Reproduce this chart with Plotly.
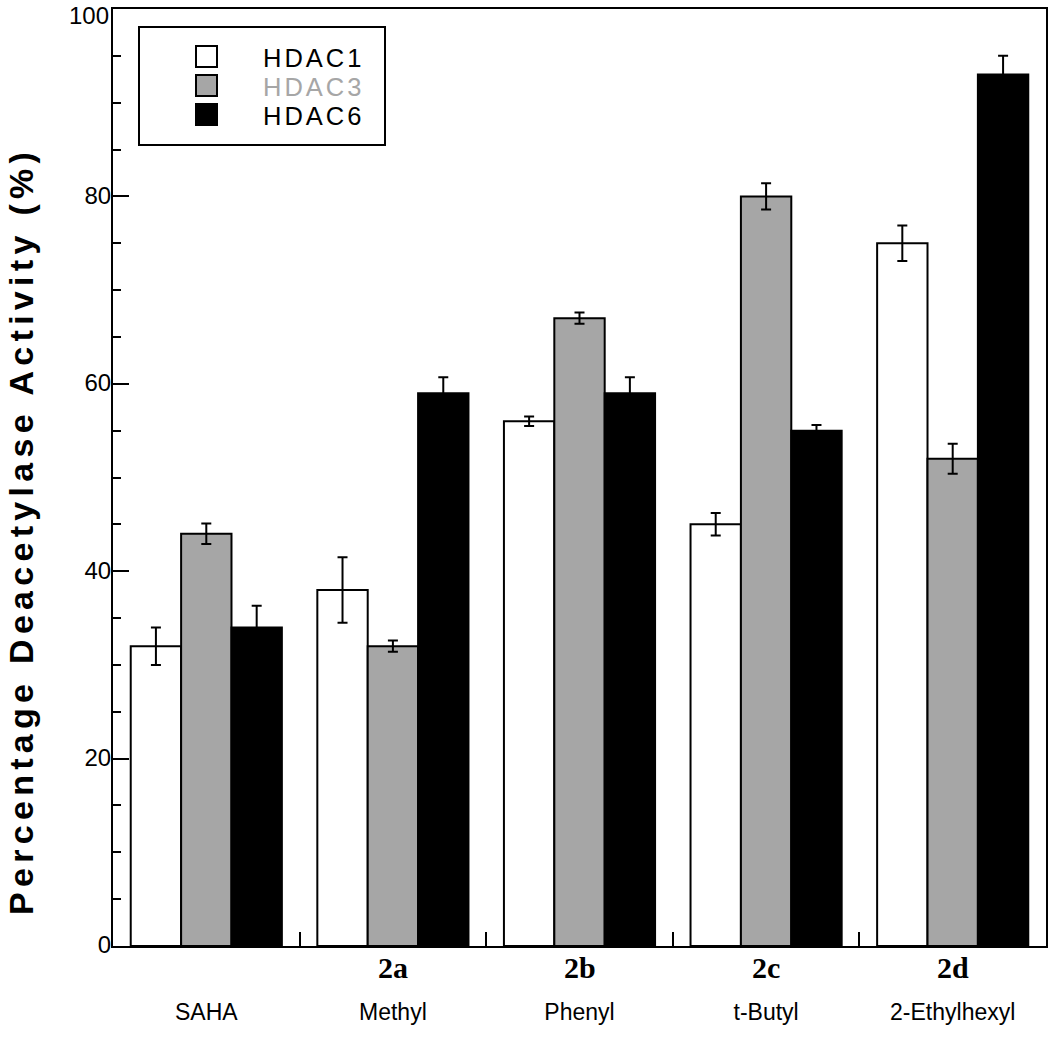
import plotly.graph_objects as go

categories = ["SAHA", "Methyl", "Phenyl", "t-Butyl", "2-Ethylhexyl"]
compound_ids = ["", "2a", "2b", "2c", "2d"]
series_names = ["HDAC1", "HDAC3", "HDAC6"]
hdac1 = [32, 38, 56, 45, 75]
hdac1_err = [2.0, 3.5, 0.5, 1.2, 1.9]
hdac3 = [44, 32, 67, 80, 52]
hdac3_err = [1.1, 0.6, 0.6, 1.4, 1.6]
hdac6 = [34, 59, 59, 55, 93]
hdac6_err = [2.3, 1.7, 1.7, 0.6, 2.0]
y_ticks = [0, 20, 40, 60, 80, 100]
y_title = "Percentage Deacetylase Activity (%)"

colors = ["#ffffff", "#a6a6a6", "#000000"]
legend_text_colors = ["#000000", "#a6a6a6", "#000000"]

fig = go.Figure()
for name, vals, errs, col in zip(series_names, [hdac1, hdac3, hdac6],
                                 [hdac1_err, hdac3_err, hdac6_err], colors):
    fig.add_trace(go.Bar(
        x=categories, y=vals, name=name, showlegend=False,
        marker=dict(color=col, line=dict(color="black", width=2)),
        error_y=dict(type="data", array=errs, visible=True,
                     color="black", thickness=2, width=5),
    ))

W, H = 1050, 1039
ml, mr, mt, mb = 113, 4, 9, 93

# the top tick label sits at the very edge of the page; it is written as a
# separate text nudged down slightly so it is not clipped
top_tick = y_ticks[-1]
fig.update_layout(
    width=W, height=H,
    margin=dict(l=ml, r=mr, t=mt, b=mb, autoexpand=False),
    paper_bgcolor="white", plot_bgcolor="white",
    barmode="group", bargap=0.19, bargroupgap=0,
    font=dict(family="Liberation Sans, Arial, sans-serif", color="black", size=20),
    xaxis=dict(
        type="category", range=[-0.5, 4.5], automargin=False,
        showline=True, linecolor="black", linewidth=2, mirror=True,
        ticks="inside", tickson="boundaries", ticklen=14, tickwidth=2, tickcolor="black",
        showgrid=False, zeroline=False,
        tickfont=dict(size=23), ticklabelstandoff=44,
    ),
    yaxis=dict(
        range=[0, 100], tickvals=y_ticks,
        ticktext=[str(v) if v != top_tick else "" for v in y_ticks],
        automargin=False,
        showline=True, linecolor="black", linewidth=2, mirror=True,
        ticks="inside", ticklen=16, tickwidth=2, tickcolor="black",
        minor=dict(dtick=5, ticks="inside", ticklen=8, tickwidth=2, tickcolor="black"),
        showgrid=False, zeroline=False,
        tickfont=dict(size=24), ticklabeloverflow="allow",
        ticklabelstandoff=-5, ticklabelshift=-1,
    ),
)

pw = W - ml - mr
ph = H - mt - mb

def px_x(px):
    return (px - ml) / pw

def px_y(py):
    return (H - mb - py) / ph

fig.add_annotation(x=px_x(111), xref="paper", y=top_tick, yref="y", yshift=-6,
                   text=str(top_tick), showarrow=False,
                   xanchor="right", yanchor="middle",
                   font=dict(size=24, color="black"))

# y-axis title (placed like the reference, below centre of the axis)
fig.add_annotation(x=px_x(21), xref="paper", y=px_y(531), yref="paper",
                   text=f'<span style="letter-spacing:5.3px"><b>{y_title}</b></span>',
                   textangle=-90, showarrow=False,
                   xanchor="center", yanchor="middle",
                   font=dict(size=34, color="black"))

# compound ids under the axis
for cat, cid in zip(categories, compound_ids):
    if cid:
        fig.add_annotation(x=cat, xref="x", y=-21 / ph, yref="paper",
                           text=f"<b>{cid}</b>", showarrow=False,
                           xanchor="center", yanchor="middle",
                           font=dict(family="Liberation Serif, Times New Roman, serif",
                                     size=30, color="black"))

# legend box (layout decoration)
fig.add_shape(type="rect", xref="paper", yref="paper",
              x0=px_x(139), x1=px_x(385), y0=px_y(145), y1=px_y(27),
              line=dict(color="black", width=2), fillcolor="white", layer="above")
row_y = [56.5, 85.5, 114.5]
for col, ry in zip(colors, row_y):
    fig.add_shape(type="rect", xref="paper", yref="paper",
                  x0=px_x(196), x1=px_x(217), y0=px_y(ry + 10.5), y1=px_y(ry - 10.5),
                  line=dict(color="black", width=2), fillcolor=col, layer="above")
legend_lines = [f'<span style="font-size:25.5px;letter-spacing:3px;color:{tc}">{n}</span>'
                for n, tc in zip(series_names, legend_text_colors)]
fig.add_annotation(x=px_x(261), xref="paper", y=px_y(row_y[1] + 1), yref="paper",
                   text="<br>".join(legend_lines), showarrow=False,
                   xanchor="left", yanchor="middle", align="left",
                   font=dict(size=22.3, color="black"))

fig.write_html("out.html", config={"displayModeBar": False},
               post_script="document.body.style.margin='0';")
